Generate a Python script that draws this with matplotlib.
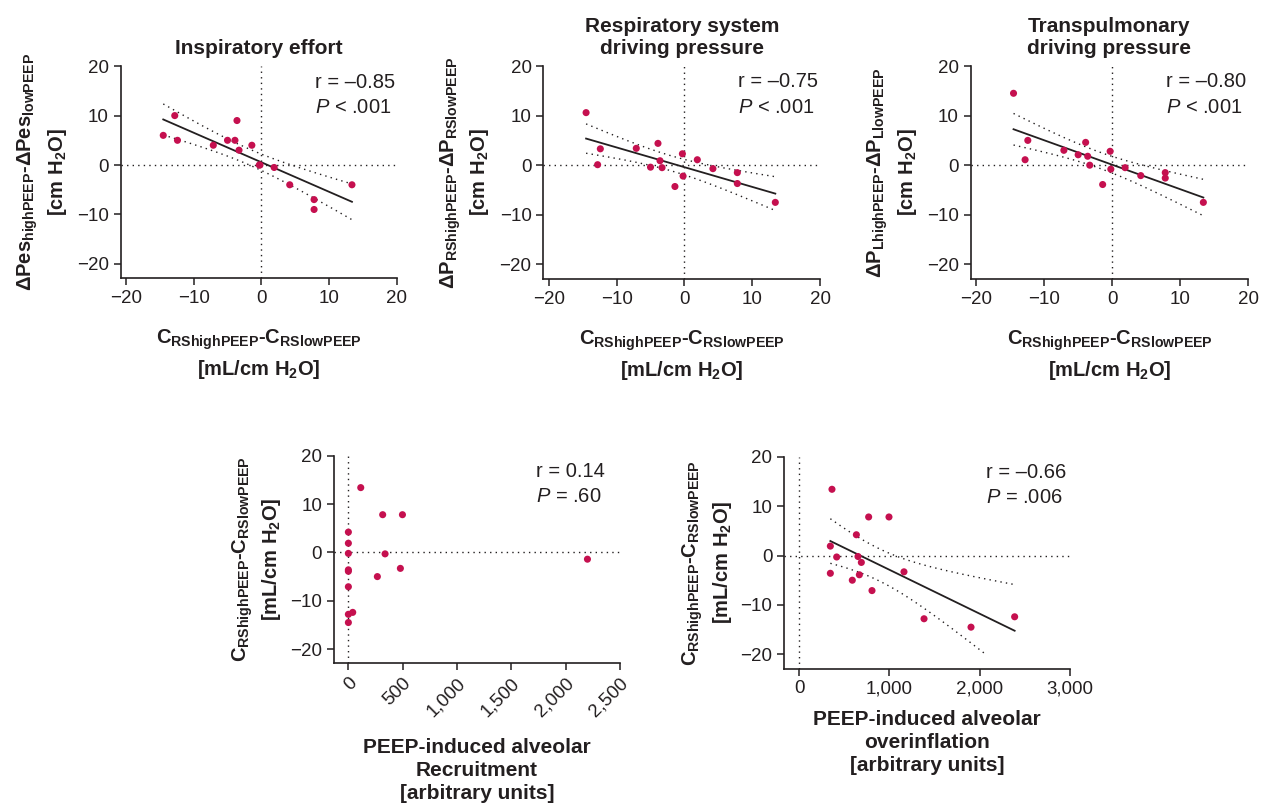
import matplotlib
matplotlib.use("Agg")
import matplotlib.pyplot as plt
import numpy as np

plt.rcParams["font.family"] = ["Liberation Sans", "DejaVu Sans"]
plt.rcParams["mathtext.fontset"] = "custom"
plt.rcParams["mathtext.rm"] = "Liberation Sans"
plt.rcParams["mathtext.it"] = "Liberation Sans:italic"
plt.rcParams["mathtext.bf"] = "Liberation Sans:bold"
plt.rcParams["mathtext.default"] = "bf"

INK = "#231f20"
DOT = "#c5104f"

# per-patient change in respiratory system compliance (high minus low PEEP)
c_diff = [-14.5, -12.8, -12.4, -7.1, -5.0, -3.9, -3.6, -3.3,
          -1.4, -0.3, -0.2, 1.9, 4.2, 7.8, 7.8, 13.4]

pes_diff = [6.0, 10.0, 5.0, 4.0, 5.0, 5.0, 9.0, 3.0,
            4.0, 0.0, 0.0, -0.5, -4.0, -7.0, -9.0, -4.0]
prs_diff = [10.6, 0.1, 3.3, 3.4, -0.4, 4.4, 0.9, -0.5,
            -4.3, 2.3, -2.2, 1.1, -0.7, -1.5, -3.7, -7.5]
pl_diff = [14.5, 1.1, 5.0, 3.0, 2.1, 4.6, 1.8, 0.0,
           -3.9, 2.8, -0.8, -0.5, -2.1, -1.5, -2.6, -7.5]

recruitment = [0, 0, 40, 0, 267, 0, 0, 479,
               2202, 338, 0, 0, 0, 316, 498, 114]
overinflation = [1904, 1384, 2387, 808, 590, 668, 347, 1162,
                 690, 417, 653, 347, 635, 771, 996, 365]

top_titles = ["Inspiratory effort",
              "Respiratory system\ndriving pressure",
              "Transpulmonary\ndriving pressure"]
top_stats = [("r = \u20130.85", "< .001"),
             ("r = \u20130.75", "< .001"),
             ("r = \u20130.80", "< .001")]
top_ylabels = [r"$\Delta$Pes$_{highPEEP}$-$\Delta$Pes$_{lowPEEP}$" + "\n[cm H$_2$O]",
               r"$\Delta$P$_{RShighPEEP}$-$\Delta$P$_{RSlowPEEP}$" + "\n[cm H$_2$O]",
               r"$\Delta$P$_{LhighPEEP}$-$\Delta$P$_{LlowPEEP}$" + "\n[cm H$_2$O]"]
c_label = "C$_{RShighPEEP}$-C$_{RSlowPEEP}$\n[mL/cm H$_2$O]"

T_975 = 2.145  # t quantile, 14 degrees of freedom
LABEL_FS = 14.5
TICK_FS = 13.5
STAT_FS = 14.5


def style_axes(ax):
    for side in ["top", "right"]:
        ax.spines[side].set_visible(False)
    for side in ["left", "bottom"]:
        ax.spines[side].set_linewidth(1.2)
        ax.spines[side].set_color(INK)
    ax.tick_params(direction="out", length=5, width=1.1, colors=INK,
                   labelsize=TICK_FS, labelcolor=INK)
    ax.axhline(0, color=INK, lw=1, ls=(0, (1, 3)), zorder=1)
    ax.axvline(0, color=INK, lw=1, ls=(0, (1, 3)), zorder=1)


def add_fit(ax, x, y, floor=None):
    x = np.asarray(x, float)
    y = np.asarray(y, float)
    n = len(x)
    slope, icpt = np.polyfit(x, y, 1)
    resid = y - (icpt + slope * x)
    s = np.sqrt(np.sum(resid ** 2) / (n - 2))
    sxx = np.sum((x - x.mean()) ** 2)
    xs = np.linspace(x.min(), x.max(), 200)
    fit = icpt + slope * xs
    half = T_975 * s * np.sqrt(1 / n + (xs - x.mean()) ** 2 / sxx)
    lo = fit - half
    if floor is not None:
        lo = np.where(lo >= floor, lo, np.nan)
    ax.plot(xs, fit, color=INK, lw=1.3, zorder=2)
    ax.plot(xs, fit + half, color=INK, lw=1, ls=(0, (1, 3)), zorder=2)
    ax.plot(xs, lo, color=INK, lw=1, ls=(0, (1, 3)), zorder=2)


def add_stats(ax, r_text, p_text):
    ax.text(0.705, 0.97, r_text, transform=ax.transAxes, fontsize=STAT_FS,
            color=INK, va="top", ha="left")
    ax.text(0.705, 0.85, r"$\mathit{P}$ " + p_text, transform=ax.transAxes,
            fontsize=STAT_FS, color=INK, va="top", ha="left")


fig = plt.figure(figsize=(12.74, 8.11), dpi=100)

top_boxes = [[0.0947, 0.6570, 0.2166, 0.2614],
             [0.4265, 0.6563, 0.2172, 0.2623],
             [0.7619, 0.6563, 0.2179, 0.2623]]
top_series = [pes_diff, prs_diff, pl_diff]

for box, ys, title, stats, ylab in zip(top_boxes, top_series, top_titles,
                                       top_stats, top_ylabels):
    ax = fig.add_axes(box)
    style_axes(ax)
    add_fit(ax, c_diff, ys)
    ax.scatter(c_diff, ys, s=26, color=DOT, edgecolors="none", zorder=3)
    ax.set_xlim(-20.8, 20)
    ax.set_ylim(-22.9, 20)
    ax.set_xticks([-20, -10, 0, 10, 20])
    ax.set_yticks([-20, -10, 0, 10, 20])
    ax.set_title(title, fontsize=15, fontweight="bold", color=INK,
                 pad=9, linespacing=1.15)
    ax.set_xlabel(c_label, fontsize=LABEL_FS, fontweight="bold", color=INK,
                  labelpad=15, linespacing=1.35)
    ax.set_ylabel(ylab, fontsize=LABEL_FS, fontweight="bold", color=INK,
                  labelpad=6, linespacing=1.3)
    add_stats(ax, *stats)

# recruitment panel
ax4 = fig.add_axes([0.2622, 0.1829, 0.2243, 0.2552])
style_axes(ax4)
ax4.scatter(recruitment, c_diff, s=26, color=DOT, edgecolors="none", zorder=3)
ax4.set_xlim(-132, 2500)
ax4.set_ylim(-22.8, 20)
ax4.set_xticks([0, 500, 1000, 1500, 2000, 2500])
ax4.set_xticklabels(["0", "500", "1,000", "1,500", "2,000", "2,500"],
                    rotation=45, ha="right", rotation_mode="anchor")
ax4.set_yticks([-20, -10, 0, 10, 20])
ax4.set_xlabel("PEEP-induced alveolar\nRecruitment\n[arbitrary units]",
               fontsize=15, fontweight="bold", color=INK, labelpad=13,
               linespacing=1.28)
ax4.set_ylabel(c_label, fontsize=LABEL_FS, fontweight="bold", color=INK,
               labelpad=5, linespacing=1.3)
add_stats(ax4, "r = 0.14", "= .60")

# overinflation panel
ax5 = fig.add_axes([0.6156, 0.1755, 0.2243, 0.2614])
style_axes(ax5)
add_fit(ax5, overinflation, c_diff, floor=-20)
ax5.scatter(overinflation, c_diff, s=26, color=DOT, edgecolors="none", zorder=3)
ax5.set_xlim(-163, 3000)
ax5.set_ylim(-22.9, 20)
ax5.set_xticks([0, 1000, 2000, 3000])
ax5.set_xticklabels(["0", "1,000", "2,000", "3,000"])
ax5.set_yticks([-20, -10, 0, 10, 20])
ax5.set_xlabel("PEEP-induced alveolar\noverinflation\n[arbitrary units]",
               fontsize=15, fontweight="bold", color=INK, labelpad=9,
               linespacing=1.28)
ax5.set_ylabel(c_label, fontsize=LABEL_FS, fontweight="bold", color=INK,
               labelpad=5, linespacing=1.3)
add_stats(ax5, "r = \u20130.66", "= .006")

fig.savefig("out.png", dpi=100)
